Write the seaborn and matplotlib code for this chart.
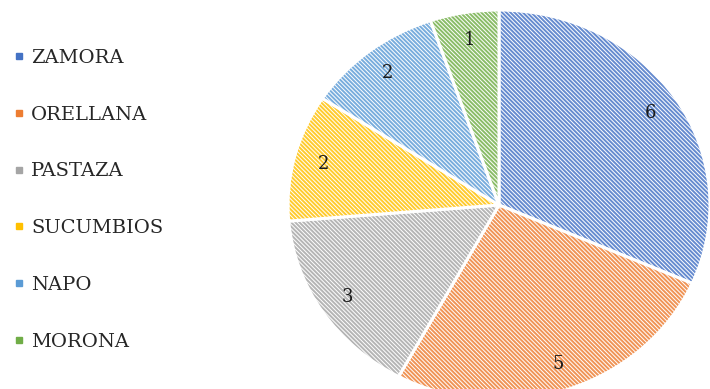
import matplotlib
matplotlib.use("Agg")
import matplotlib.pyplot as plt
import seaborn as sns
from matplotlib.lines import Line2D

provinces = ["ZAMORA", "ORELLANA", "PASTAZA", "SUCUMBIOS", "NAPO", "MORONA"]
counts = [6, 5, 3, 2, 2, 1]
colors = ["#4472C4", "#ED7D31", "#A5A5A5", "#FFC000", "#5B9BD5", "#70AD47"]


def lighten(c, f):
    r, g, b = matplotlib.colors.to_rgb(c)
    return (r + (1 - r) * f, g + (1 - g) * f, b + (1 - b) * f)


sns.set_theme(style="white")
plt.rcParams["font.family"] = ["DejaVu Serif"]
plt.rcParams["hatch.linewidth"] = 0.7

fig = plt.figure(figsize=(7.10, 3.89), dpi=100)
W, H = 710, 389
cx, cy, rx, ry = 499, 205, 211, 195
ax = fig.add_axes([(cx - rx) / W, (H - cy - ry) / H, 2 * rx / W, 2 * ry / H])

total = sum(counts)
pal = [lighten(c, 0.18) for c in sns.color_palette(colors)]
wedges, texts, autotexts = ax.pie(
    counts, colors=pal, startangle=90, counterclock=False,
    autopct=lambda p: f"{round(p * total / 100)}", pctdistance=0.86,
    wedgeprops=dict(edgecolor="white", linewidth=2.2),
    textprops=dict(fontsize=13, color="#1a1a1a"),
)
for w in wedges:
    w.set_hatch("\\\\\\\\\\\\\\\\")
ax.set_aspect("auto")
ax.set_xlim(-1, 1)
ax.set_ylim(-1, 1)
ax.axis("off")

handles = [Line2D([0], [0], marker="s", linestyle="none", markersize=4.5,
                  markerfacecolor=c, markeredgecolor=c) for c in colors]
fig.legend(handles, provinces, loc="upper left", bbox_to_anchor=(0.008, 0.895),
           frameon=False, fontsize=14, labelspacing=2.0, handlelength=0.6,
           handletextpad=0.3, labelcolor="#262626", borderaxespad=0)

fig.savefig("out.png", dpi=100)
